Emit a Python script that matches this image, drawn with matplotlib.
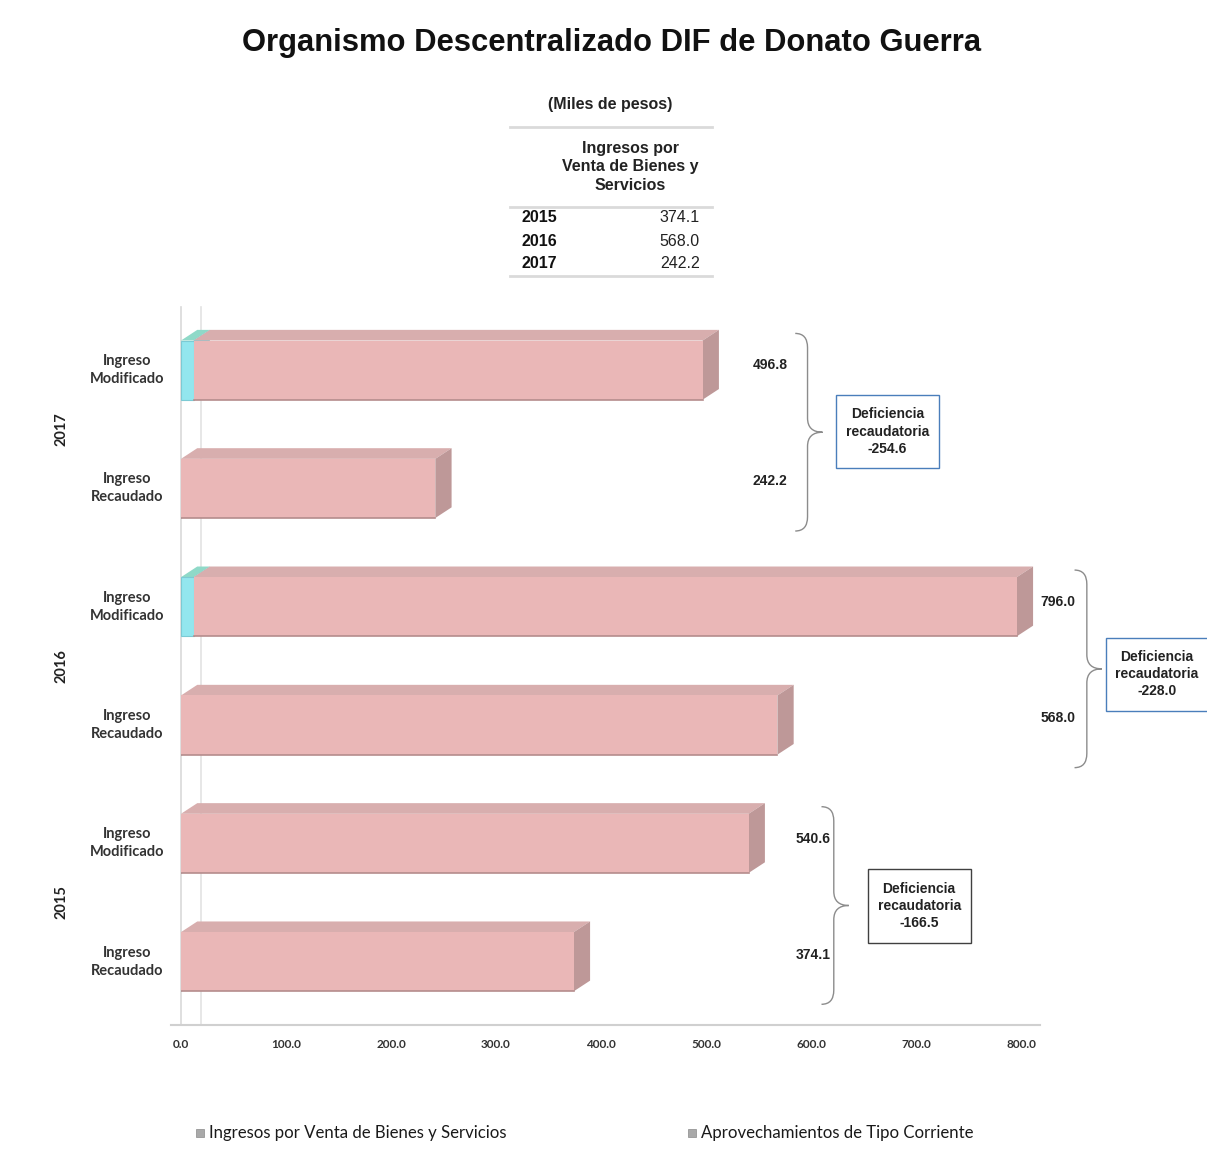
import numpy as np
import matplotlib.pyplot as plt
import matplotlib.transforms as mtransforms
from matplotlib.patches import Polygon, Rectangle, PathPatch
from matplotlib.path import Path
from matplotlib.lines import Line2D

# Datos (miles de pesos); orden de abajo hacia arriba
years = ['2015', '2016', '2017']
bar_labels = ['Ingreso\nRecaudado', 'Ingreso\nModificado'] * 3
venta = [374.1, 540.6, 568.0, 784.0, 242.2, 484.8]      # Ingresos por Venta de Bienes y Servicios
aprov = [0.0, 0.0, 0.0, 12.0, 0.0, 12.0]                # Aprovechamientos de Tipo Corriente
totales = [374.1, 540.6, 568.0, 796.0, 242.2, 496.8]
deficiencia = [-166.5, -228.0, -254.6]
tabla_recaudado = [374.1, 568.0, 242.2]
xticks = [0, 100, 200, 300, 400, 500, 600, 700, 800]

W, H = 1207, 1164
fig = plt.figure(figsize=(W / 100, H / 100), dpi=100)
fig.patch.set_facecolor('white')

narrow = ['Liberation Sans Narrow', 'Liberation Sans', 'DejaVu Sans']
calib = ['Lato', 'DejaVu Sans']

# ejes en pixeles
ax = fig.add_axes([181 / W, 1 - 1025 / H, 1000 / W, (1025 - 306.8) / H])
ax.set_xlim(0, 1000 / 1.05)
y_lo, y_hi = -0.535, 5.535
ax.set_ylim(y_lo, y_hi)
ax.axis('off')

# paredes grises del grafico 3D (detras de las barras)
ax.plot([0, 0], [y_lo, y_hi], color='#D9D9D9', lw=1.2, clip_on=False, zorder=0.5)
ax.plot([19, 19], [y_lo, y_hi], color='#E3E3E3', lw=1.2, clip_on=False, zorder=0.5)
ax.plot([-10, 818], [y_lo, y_lo], color='#D0D0D0', lw=1.5, clip_on=False, zorder=0.5)

pos = np.arange(len(venta))
h = 0.5
dx, dy = 15.5, 0.09

def bar3d(y, left, width, top, side):
    y0, y1 = y - h / 2, y + h / 2
    ax.add_patch(Polygon([[left, y1], [left + dx, y1 + dy], [left + width + dx, y1 + dy],
                          [left + width, y1]], closed=True, fc=top, ec='none', zorder=2))
    ax.add_patch(Polygon([[left + width, y0], [left + width, y1], [left + width + dx, y1 + dy],
                          [left + width + dx, y0 + dy]], closed=True, fc=side, ec='none', zorder=2))

for i in pos:
    if aprov[i] > 0:
        bar3d(i, 0, aprov[i], '#8FD9C8', '#7CCAD4')
ax.barh(pos, aprov, height=h, left=0, color='#93E6EE', edgecolor='#7CCAD4', lw=0.8, zorder=3)
for i in pos:
    bar3d(i, aprov[i], venta[i], '#D8AEAE', '#BE9898')
ax.barh(pos, venta, height=h, left=aprov, color='#EAB7B7', edgecolor='none', zorder=3)
# borde inferior mas oscuro
for i in pos:
    ax.plot([aprov[i], aprov[i] + venta[i]], [i - h / 2, i - h / 2], color='#B58C8C', lw=1.2, zorder=4)

# etiquetas de categorias
tr = mtransforms.blended_transform_factory(fig.transFigure, ax.transData)
for i in pos:
    ax.text(127 / W, i, bar_labels[i], transform=tr, ha='center', va='center',
            family=calib, fontweight='bold', fontsize=10.5, color='#333333', linespacing=1.35)
for k, yr in enumerate(years):
    ax.text(62 / W, 2 * k + 0.5, yr, transform=tr, ha='center', va='center', rotation=90,
            family=calib, fontweight='bold', fontsize=10.5, color='#222222')

# eje x
for t in xticks:
    ax.text(t, y_lo, f'{t:.1f}', ha='center', va='top', family=calib, fontweight='bold',
            fontsize=8.5, color='#333333',
            transform=ax.transData + mtransforms.ScaledTranslation(0, -14 / 100, fig.dpi_scale_trans))

# valores, llaves y cuadros de deficiencia
label_x = [602, 835, 561]
brace_x = [610, 851, 585]
box_c = [(703, 0.47), (929.5, 2.43), (673, 4.48)]
box_ec = ['#404040', '#4A7EBB', '#4A7EBB']

def brace(x0, yb, yt, w=26):
    ym = (yb + yt) / 2
    xv = x0 + w * 0.45
    c = 0.12
    verts = [(x0, yt), (xv, yt), (xv, yt - c),
             (xv, ym + c), (xv, ym), (x0 + w, ym),
             (xv, ym), (xv, ym - c),
             (xv, yb + c), (xv, yb), (x0, yb)]
    codes = [Path.MOVETO, Path.CURVE3, Path.CURVE3,
             Path.LINETO, Path.CURVE3, Path.CURVE3,
             Path.CURVE3, Path.CURVE3,
             Path.LINETO, Path.CURVE3, Path.CURVE3]
    ax.add_patch(PathPatch(Path(verts, codes), fc='none', ec='#8C8C8C', lw=1.0, clip_on=False))

for k in range(3):
    ir, im = 2 * k, 2 * k + 1
    ax.text(label_x[k], im + 0.04, f'{totales[im]:.1f}', ha='center', va='center',
            family=narrow, fontweight='bold', fontsize=10, color='#222222')
    ax.text(label_x[k], ir + 0.06, f'{totales[ir]:.1f}', ha='center', va='center',
            family=narrow, fontweight='bold', fontsize=10, color='#222222')
    brace(brace_x[k], ir - 0.36, im + 0.31)
    cx, cy = box_c[k]
    bw, bh = 98, 0.62
    ax.add_patch(Rectangle((cx - bw / 2, cy - bh / 2), bw, bh, fc='white', ec=box_ec[k],
                           lw=1.0, clip_on=False, zorder=5))
    ax.text(cx, cy, f'Deficiencia\nrecaudatoria\n{deficiencia[k]:.1f}', ha='center', va='center',
            family=narrow, fontweight='bold', fontsize=10, color='#222222', linespacing=1.3, zorder=6)

# titulo
fig.text(612 / W, 1 - 43 / H, 'Organismo Descentralizado DIF de Donato Guerra', ha='center', va='center',
         family=['Liberation Sans', 'DejaVu Sans'], fontweight='bold', fontsize=22.3, color='#111111')

# tabla
fig.text(610 / W, 1 - 104 / H, '(Miles de pesos)', ha='center', va='center',
         family=narrow, fontweight='bold', fontsize=11.5, color='#222222')
fig.text(630 / W, 1 - 167 / H, 'Ingresos por\nVenta de Bienes y\nServicios', ha='center', va='center',
         family=narrow, fontweight='bold', fontsize=11.5, color='#222222', linespacing=1.3)
for yy in [127, 207, 276]:
    fig.add_artist(Line2D([510 / W, 712 / W], [1 - yy / H, 1 - yy / H], color='#DADADA', lw=2))
for k, yr in enumerate(years):
    yy = 1 - (218 + 23 * k) / H
    fig.text(522 / W, yy, yr, ha='left', va='center', family=narrow, fontweight='bold',
             fontsize=11.5, color='#111111')
    fig.text(700 / W, yy, f'{tabla_recaudado[k]:.1f}', ha='right', va='center', family=narrow,
             fontsize=11.5, color='#222222')

# leyenda
leg_items = [(200, 'Ingresos por Venta de Bienes y Servicios'), (692, 'Aprovechamientos de Tipo Corriente')]
for xx, txt in leg_items:
    fig.add_artist(Rectangle(((xx - 4) / W, 1 - 1137 / H), 8 / W, 8 / H, fc='#A9A9A9', ec='#8A8A8A',
                             lw=0.5, transform=fig.transFigure))
    fig.text((xx + 9) / W, 1 - 1133 / H, txt, ha='left', va='center', family=calib,
             fontsize=12.1, color='#1A1A1A')

fig.savefig('out.png', dpi=100, facecolor='white')
